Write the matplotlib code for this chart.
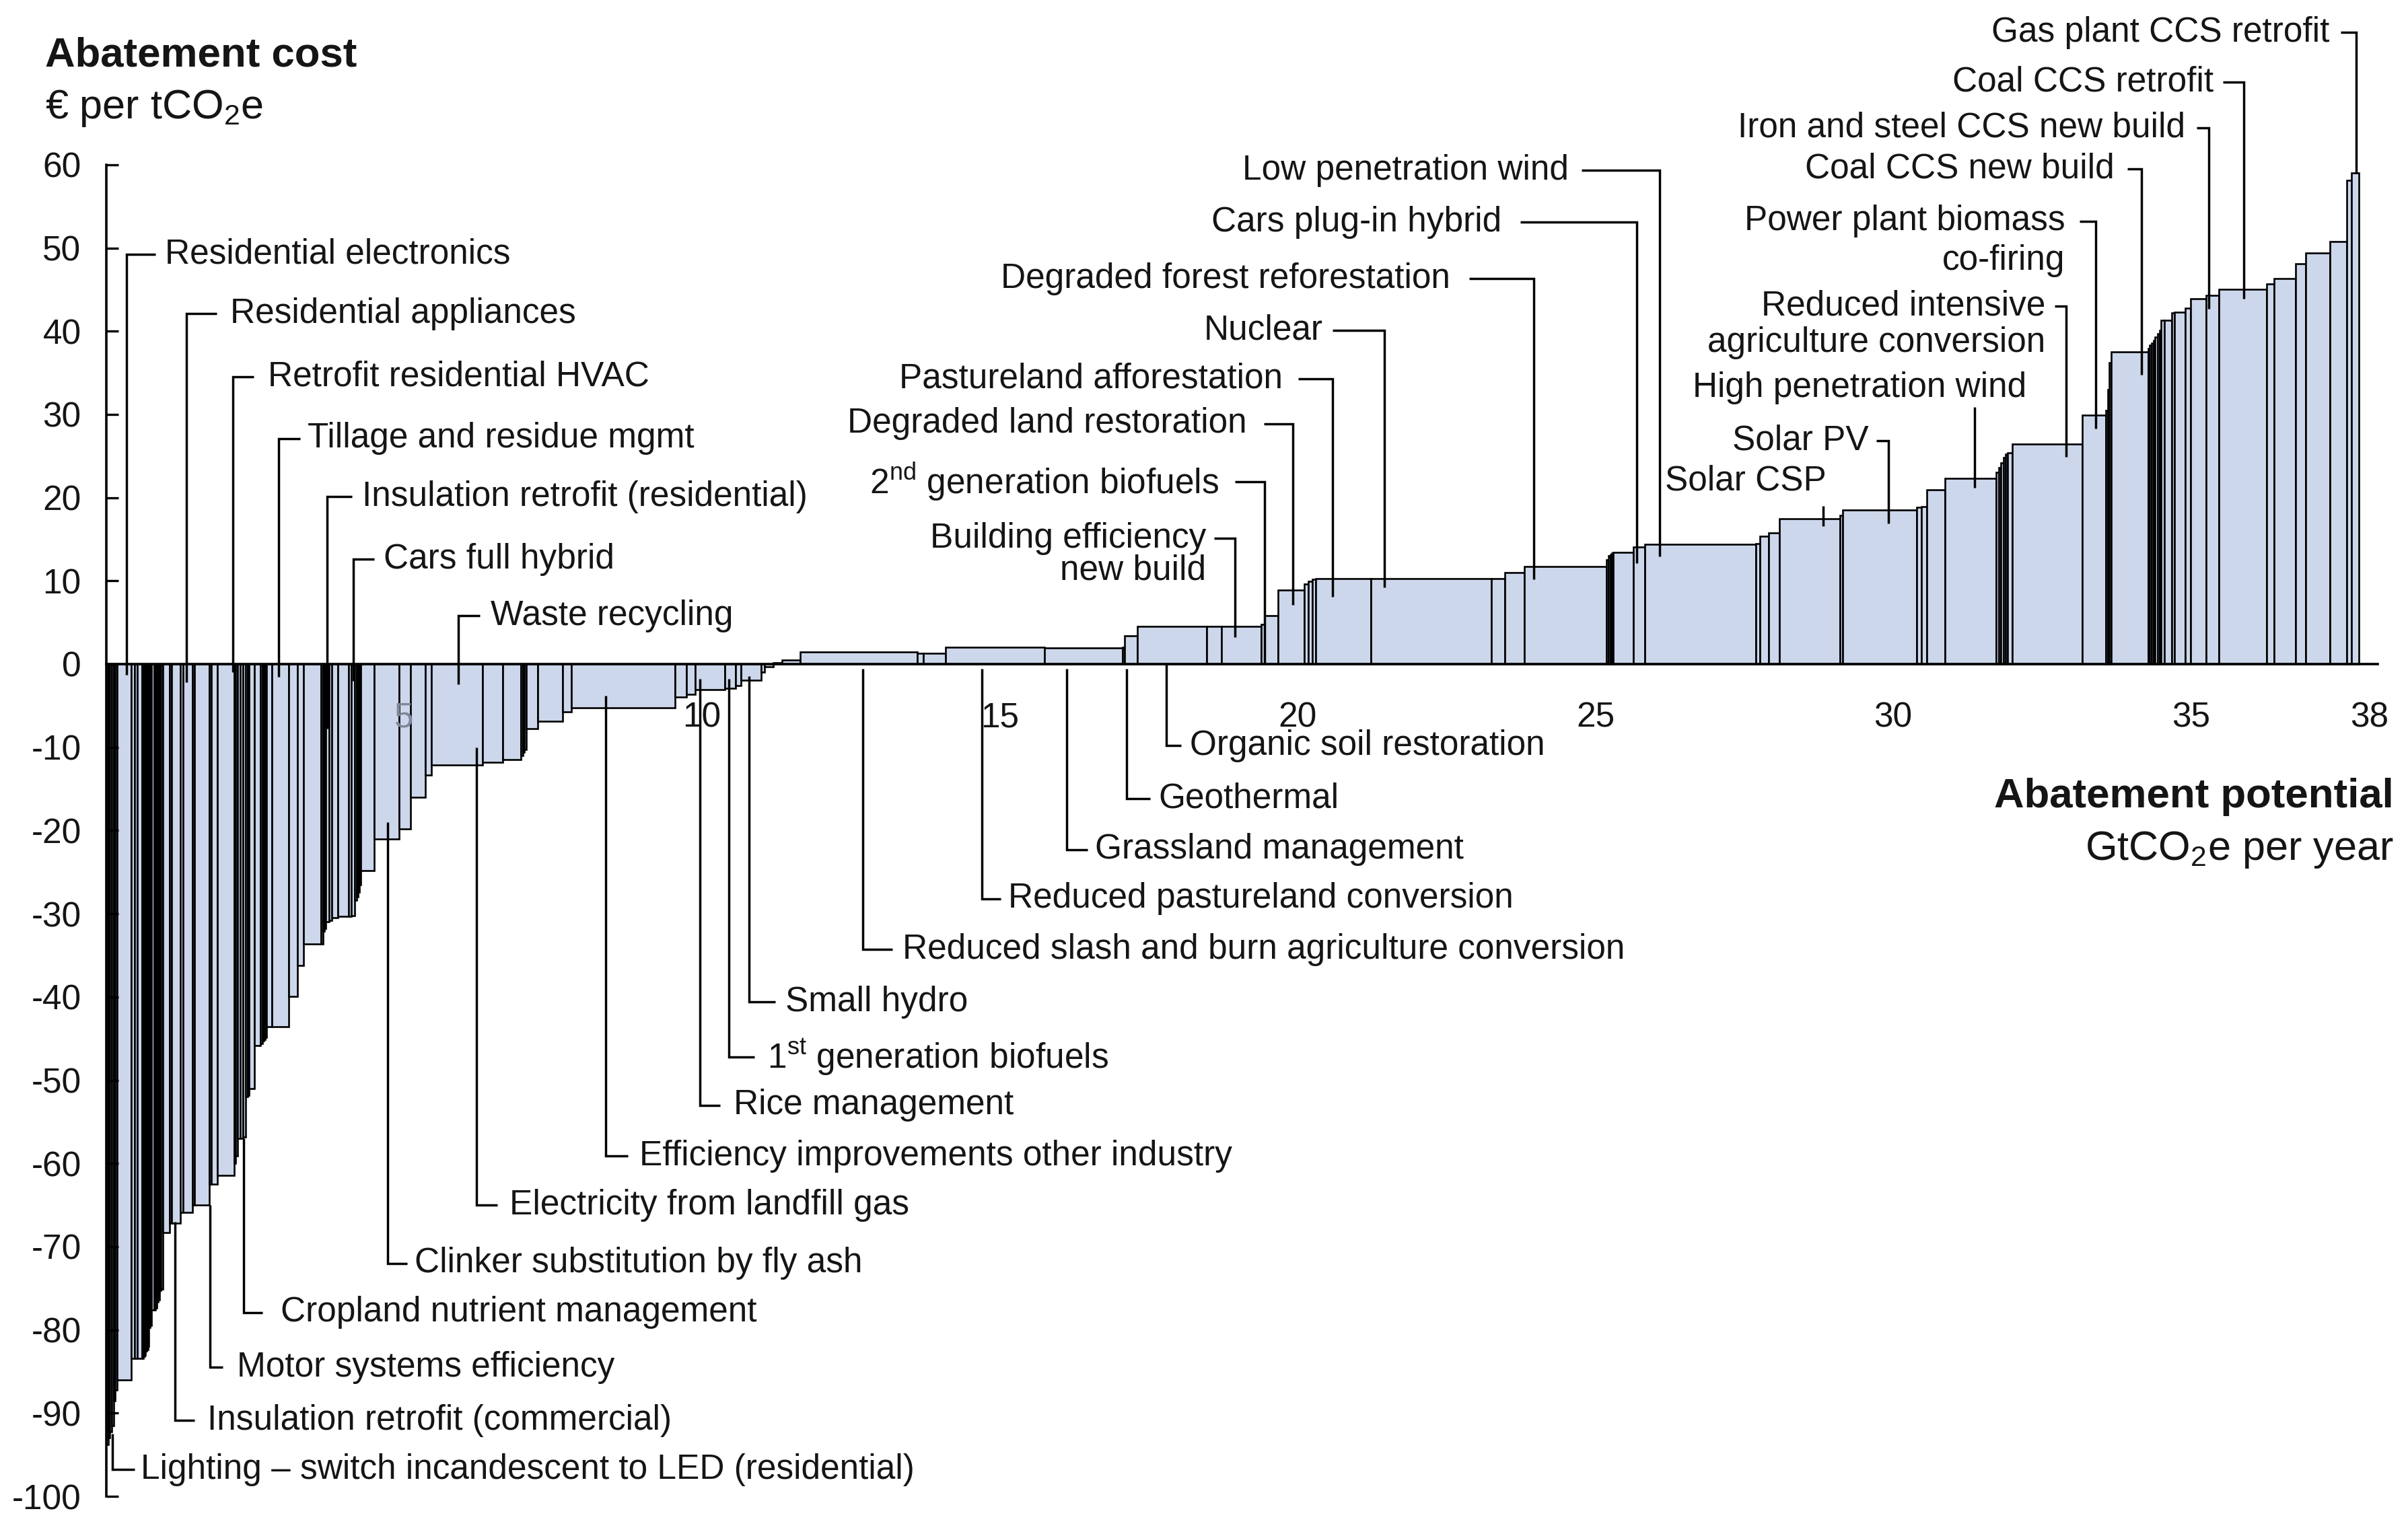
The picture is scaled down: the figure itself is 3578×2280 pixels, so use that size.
import numpy as np
import matplotlib
matplotlib.use("Agg")
import matplotlib.pyplot as plt

plt.rcParams['font.family'] = ['Liberation Sans', 'DejaVu Sans']
plt.rcParams['mathtext.fontset'] = 'custom'
plt.rcParams['mathtext.rm'] = 'Liberation Sans'
plt.rcParams['mathtext.it'] = 'Liberation Sans:italic'
plt.rcParams['mathtext.bf'] = 'Liberation Sans:bold'

# ---------------- data ----------------
# cumulative abatement potential (right edge of each lever), GtCO2e per year
cum_potential = [
    0.03, 0.06, 0.09, 0.12, 0.15, 0.18,
    0.42, 0.48, 0.52, 0.60, 0.62, 0.64, 0.655, 0.675, 0.695, 0.71, 0.73, 0.757,
    0.806, 0.83, 0.85, 0.87, 0.896, 0.92, 0.945,
    1.06, 1.096, 1.247, 1.284, 1.446, 1.484, 1.729, 1.766, 1.86, 2.15, 2.17, 2.207, 2.252,
    2.29, 2.339, 2.37, 2.395, 2.49, 2.59, 2.62, 2.64, 2.665, 2.685, 2.78, 3.06, 3.205, 3.307,
    3.60, 3.638, 3.66, 3.687, 3.744, 3.789, 3.883, 4.07, 4.11, 4.166, 4.20, 4.222, 4.245, 4.267,
    4.497, 4.92, 5.11, 5.36, 5.46, 6.32, 6.66, 6.96, 6.99, 7.02, 7.05, 7.24, 7.66, 7.81, 9.55,
    9.74, 9.89, 10.38, 10.57, 10.66, 10.99, 11.05, 11.20, 11.35,
    11.65, 13.62, 13.72, 14.09, 15.75, 17.06, 17.10, 17.31, 18.47, 18.72, 19.39, 19.45, 19.67,
    20.11, 20.18, 20.25, 20.30, 21.23, 23.25, 23.48, 23.81, 25.19, 25.22, 25.25, 25.28, 25.30,
    25.64, 25.83, 27.69, 27.76, 27.91, 28.09, 29.11, 29.15, 30.40, 30.48, 30.56, 30.87, 31.73,
    31.77, 31.81, 31.85, 31.89, 31.92, 32.00, 33.17, 33.57, 33.60, 33.63, 33.66, 34.28,
    34.31, 34.34, 34.37, 34.40, 34.44, 34.47, 34.50, 34.55, 34.68, 34.72, 34.90, 34.99, 35.25,
    35.47, 36.27, 36.40, 36.76, 36.93, 37.33, 37.62, 37.70, 37.82,
]
# abatement cost of each lever, EUR per tCO2e
cost = [
    -93.8, -93.0, -92.2, -91.5, -88.5, -87.2,
    -86.0, -83.4, -83.4, -83.4, -83.4, -83.2, -83.0, -82.5, -82.4, -82.0, -79.7, -79.5,
    -77.6, -77.6, -77.4, -76.6, -76.4, -75.3, -75.1,
    -68.3, -67.2, -67.2, -65.9, -65.9, -65.0, -65.0, -62.5, -62.5, -61.4, -60.0, -59.1, -57.0,
    -57.0, -56.8, -52.0, -51.8, -51.0, -45.8, -45.6, -45.3, -45.1, -44.9, -43.6, -43.6, -39.9, -36.2,
    -33.6, -33.6, -32.1, -31.8, -31.0, -30.8, -30.5, -30.3, -30.3, -30.2, -28.4, -28.0, -27.4, -26.5,
    -24.8, -21.0, -19.8, -16.0, -13.3, -12.1, -11.8, -11.5, -11.0, -10.6, -10.3, -7.8, -6.9, -5.7, -5.25,
    -3.96, -3.6, -3.1, -2.9, -2.6, -1.9, -1.0, -0.3, 0.15,
    0.5, 1.44, 1.3, 1.3, 2.06, 1.96, 2.0, 3.4, 4.5, 4.5, 4.5, 4.8, 5.8,
    8.9, 9.6, 9.95, 10.2, 10.3, 10.3, 10.3, 11.0, 11.75, 12.5, 13.0, 13.2, 13.3,
    13.4, 14.1, 14.4, 14.5, 15.4, 15.8, 17.5, 17.9, 18.5, 18.8, 18.9, 20.9, 22.3,
    23.0, 23.6, 24.2, 24.8, 25.2, 25.4, 26.4, 29.9, 30.5, 33.0, 36.2, 37.5,
    37.9, 38.3, 38.6, 38.9, 39.3, 39.7, 40.1, 41.3, 41.3, 42.2, 42.3, 42.8, 43.9,
    44.3, 45.0, 45.7, 46.3, 48.1, 49.4, 50.8, 58.1, 59.0,
]

y_ticks = [60, 50, 40, 30, 20, 10, 0, -10, -20, -30, -40, -50, -60, -70, -80, -90, -100]
x_ticks = [5, 10, 15, 20, 25, 30, 35, 38]

# labels pointing down from above: (text, x_vertical, y_label, x_hline_end, x_text, y_bottom)
top_left_labels = [
    ("Residential electronics", 0.34, 49.2, 0.83, 0.98, -1.3),
    ("Residential appliances", 1.34, 42.1, 1.85, 2.08, -2.2),
    ("Retrofit residential HVAC", 2.12, 34.5, 2.48, 2.71, -1.0),
    ("Tillage and residue mgmt", 2.89, 27.1, 3.25, 3.38, -1.5),
    ("Insulation retrofit (residential)", 3.71, 20.1, 4.12, 4.29, -7.8),
    ("Cars full hybrid", 4.15, 12.6, 4.50, 4.66, -2.0),
    ("Waste recycling", 5.91, 5.8, 6.27, 6.45, -2.4),
]
# labels below the curve: (text, x_vertical, y_top, y_label, x_hline_end, x_text)
bottom_labels = [
    ("Lighting \u2013 switch incandescent to LED (residential)", 0.10, -92.5, -96.8, 0.47, 0.58),
    ("Insulation retrofit (commercial)", 1.15, -67.0, -90.9, 1.48, 1.70),
    ("Motor systems efficiency", 1.74, -65.0, -84.5, 1.95, 2.19),
    ("Cropland nutrient management", 2.30, -57.0, -77.9, 2.62, 2.93),
    ("Clinker substitution by fly ash", 4.72, -19.0, -72.0, 5.05, 5.17),
    ("Electricity from landfill gas", 6.21, -10.0, -65.0, 6.56, 6.77),
    ("Efficiency improvements other industry", 8.38, -3.8, -59.1, 8.76, 8.95),
    ("Rice management", 9.97, -1.8, -53.0, 10.30, 10.53),
    (r"1$^{\mathrm{st}}$ generation biofuels", 10.45, -1.8, -47.2, 10.88, 11.10),
    ("Small hydro", 10.79, -1.45, -40.6, 11.23, 11.40),
    ("Reduced slash and burn agriculture conversion", 12.70, -0.6, -34.3, 13.20, 13.37),
    ("Reduced pastureland conversion", 14.70, -0.6, -28.2, 15.02, 15.14),
    ("Grassland management", 16.12, -0.6, -22.3, 16.47, 16.60),
    ("Geothermal", 17.13, -0.6, -16.2, 17.53, 17.66),
    ("Organic soil restoration", 17.80, -0.1, -9.8, 18.05, 18.19),
]
# right-aligned labels above: (lines, x_text_end, y_first_line, line_gap, x_hline_start, x_vertical, y_bottom)
top_right_labels = [
    (["Low penetration wind"], 24.55, 59.3, 0, 24.77, 26.08, 12.9),
    (["Cars plug-in hybrid"], 23.43, 53.1, 0, 23.74, 25.69, 12.1),
    (["Degraded forest reforestation"], 22.56, 46.3, 0, 22.88, 23.97, 10.2),
    (["Nuclear"], 20.43, 40.1, 0, 20.59, 21.46, 9.2),
    (["Pastureland afforestation"], 19.75, 34.3, 0, 20.01, 20.59, 8.1),
    (["Degraded land restoration"], 19.15, 28.9, 0, 19.43, 19.92, 7.1),
    ([r"2$^{\mathrm{nd}}$ generation biofuels"], 18.68, 21.9, 0, 18.95, 19.45, 0.15),
    (["Building efficiency", "new build"], 18.47, 15.1, 3.9, 18.60, 18.95, 3.2),
    (["Gas plant CCS retrofit"], 37.33, 75.9, 0, 37.51, 37.77, 58.9),
    (["Coal CCS retrofit"], 35.38, 69.9, 0, 35.54, 35.89, 43.9),
    (["Iron and steel CCS new build"], 34.90, 64.4, 0, 35.10, 35.30, 42.7),
    (["Coal CCS new build"], 33.71, 59.5, 0, 33.93, 34.17, 34.8),
    (["Power plant biomass", "co-firing"], 32.89, 53.2, 4.7, 33.13, 33.40, 28.3),
    (["Reduced intensive", "agriculture conversion"], 32.56, 43.0, 4.4, 32.71, 32.90, 24.9),
    (["Solar PV"], 29.59, 26.8, 0, 29.72, 29.92, 16.9),
]
# labels with a short vertical tick only: (text, x_text_end, y_label, x_vertical, y_from, y_to)
tick_labels = [
    ("High penetration wind", 32.24, 33.2, 31.37, 30.9, 21.2),
    ("Solar CSP", 28.88, 22.0, 28.82, 19.0, 16.6),
]

# ---------------- drawing ----------------
W, H, DPI = 3578, 2280, 100
fig = plt.figure(figsize=(W / DPI, H / DPI), dpi=DPI)
ax = fig.add_axes([0, 0, 1, 1])

x0_px, px_per_x = 158.0, 88.5
y0_px, px_per_y = 987.0, 12.37
ax.set_xlim(-x0_px / px_per_x, (W - x0_px) / px_per_x)
ax.set_ylim((y0_px - H) / px_per_y, y0_px / px_per_y)

fill = '#CDD7EB'
ink = '#151515'
edges = np.asarray(cum_potential)
left = np.concatenate([[0.0], edges[:-1]])
width = edges - left
ax.bar(left, cost, width=width, align='edge', color=fill, edgecolor='black',
       linewidth=1.9, zorder=2)

# axes
for s in ['top', 'right']:
    ax.spines[s].set_visible(False)
ax.spines['left'].set_position(('data', 0))
ax.spines['left'].set_bounds(-100, 60)
ax.spines['bottom'].set_position(('data', 0))
ax.spines['bottom'].set_bounds(0, 38.13)
for s in ['left', 'bottom']:
    ax.spines[s].set_linewidth(2.6)
    ax.spines[s].set_zorder(5)
ax.set_yticks(y_ticks)
ax.set_yticklabels([str(v) for v in y_ticks])
ax.tick_params(axis='y', direction='in', length=13, width=2.4, pad=27,
               labelsize=37, labelcolor=ink)
ax.set_xticks(x_ticks)
ax.set_xticklabels([str(v) for v in x_ticks])
ax.tick_params(axis='x', length=0, pad=40, labelsize=37, labelcolor=ink)
ax.xaxis.set_zorder(6)
ax.yaxis.set_zorder(6)
# the "5" label sits on a bar in the reference and looks faded
ax.get_xticklabels()[0].set_color('#7F8799')

fs = 37
lw_lead = 2.5


def lead(xs, ys):
    ax.plot(xs, ys, color='black', lw=lw_lead, solid_capstyle='butt',
            solid_joinstyle='miter', zorder=4, clip_on=False)


for text, xv, yl, xh, xt, yb in top_left_labels:
    lead([xh, xv, xv], [yl, yl, yb])
    ax.text(xt, yl, text, ha='left', va='center', fontsize=fs, color=ink)

for text, xv, yt, yl, xh, xt in bottom_labels:
    lead([xv, xv, xh], [yt, yl, yl])
    ax.text(xt, yl, text, ha='left', va='center', fontsize=fs, color=ink)

for lines, xte, yl, gap, xh, xv, yb in top_right_labels:
    lead([xh, xv, xv], [yl, yl, yb])
    for i, ln in enumerate(lines):
        ax.text(xte, yl - i * gap, ln, ha='right', va='center', fontsize=fs, color=ink)

for text, xte, yl, xv, y1, y2 in tick_labels:
    lead([xv, xv], [y1, y2])
    ax.text(xte, yl, text, ha='right', va='center', fontsize=fs, color=ink)

# axis titles
ax.text(-1.03, 73.1, "Abatement cost", ha='left', va='center', fontsize=44.5,
        fontweight='bold', color=ink)
ax.text(-1.03, 66.8, r"€ per tCO$_{\mathrm{2}}$e", ha='left', va='center', fontsize=44,
        color=ink)
ax.text(38.4, -16.0, "Abatement potential", ha='right', va='center', fontsize=44.5,
        fontweight='bold', color=ink)
ax.text(38.4, -22.3, r"GtCO$_{\mathrm{2}}$e per year", ha='right', va='center', fontsize=44,
        color=ink)

fig.savefig("out.png", dpi=DPI, facecolor='white')
